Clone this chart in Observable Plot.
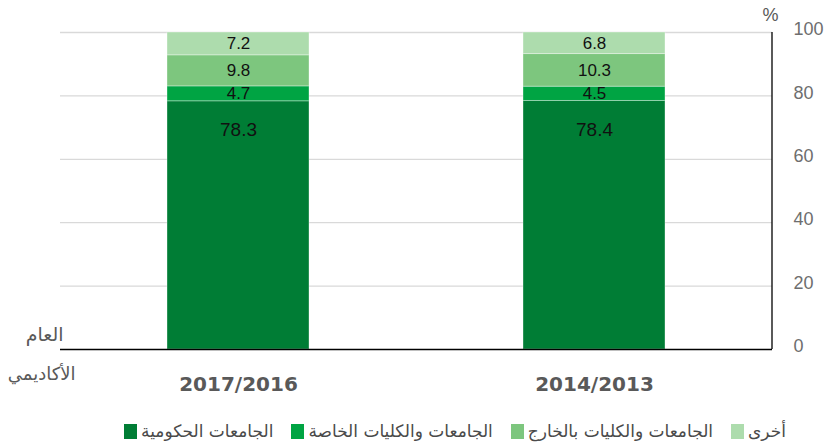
<!DOCTYPE html>
<html>
<head>
<meta charset="utf-8">
<script src="https://cdn.jsdelivr.net/npm/d3@7"></script>
<script src="https://cdn.jsdelivr.net/npm/@observablehq/plot@0.6"></script>
<style>
  body { margin: 0; background: white; width: 830px; }
  #legend { display: flex; direction: rtl; justify-content: center; align-items: center; height: 36px; padding-left: 62px; padding-top: 6px; box-sizing: border-box; font-family: "DejaVu Sans", sans-serif; font-size: 17px; color: #4a4a4a; }
  .item { display: flex; align-items: center; margin-left: 18px; }
  .sw { width: 13px; height: 15px; margin-right: 4px; }
</style>
</head>
<body>
<div id="chart"></div>
<div id="legend"></div>
<script>
const years = ["2017/2016", "2014/2013"];
const categories = ["الجامعات الحكومية", "الجامعات والكليات الخاصة", "الجامعات والكليات بالخارج", "أخرى"];
const govValues = [78.3, 78.4];
const privateValues = [4.7, 4.5];
const abroadValues = [9.8, 10.3];
const otherValues = [7.2, 6.8];
const colors = ["#007d35", "#00a443", "#7dc67e", "#addcad"];
const yTicks = [0, 20, 40, 60, 80, 100];
const axisTitle = ["العام", "الأكاديمي"];
const unit = ["%"];

const series = [govValues, privateValues, abroadValues, otherValues];
const rows = years.flatMap((yr, i) => categories.map((c, j) => ({year: yr, category: c, value: series[j][i]})));
const gov = categories[0];

const rightLine = (index, scales, values, dims) => {
  const x = dims.width - dims.marginRight;
  return d3.create("svg:line")
    .attr("x1", x).attr("x2", x)
    .attr("y1", scales.y(100)).attr("y2", scales.y(0))
    .attr("stroke", "black").attr("stroke-width", 1.3).node();
};

const chart = Plot.plot({
  width: 830, height: 410,
  marginLeft: 60, marginRight: 58, marginTop: 32, marginBottom: 61,
  style: {fontFamily: "'Liberation Sans', 'DejaVu Sans', sans-serif", background: "white"},
  x: {domain: years, paddingInner: 0.6, paddingOuter: 0.3, label: null},
  y: {domain: [0, 100], label: null},
  color: {domain: categories, range: colors},
  marks: [
    Plot.gridY(yTicks.filter(t => t > 0), {stroke: "#d9d9d9", strokeOpacity: 1, strokeWidth: 1.3}),
    Plot.barY(rows, Plot.stackY({x: "year", y: "value", z: "category", fill: "category", stroke: "white", strokeOpacity: 0.35, strokeWidth: 1})),
    Plot.text(rows, Plot.stackY({x: "year", y: "value", z: "category", text: d => d.category === gov ? null : d.value.toFixed(1), fontSize: 17, fill: "#111"})),
    Plot.text(rows, Plot.stackY2({x: "year", y: "value", z: "category", text: d => d.category === gov ? d.value.toFixed(1) : null, fontSize: 19, fill: "#111", dy: 29})),
    Plot.ruleY([0], {stroke: "black", strokeWidth: 1.3}),
    rightLine,
    Plot.axisY(yTicks, {anchor: "right", tickSize: 0, tickPadding: 21, fontSize: 18, fill: "#6e6e6e", dy: -3, label: null}),
    Plot.axisX({tickSize: 0, tickPadding: 27, fontSize: 20, fontWeight: "bold", fill: "#595959", fontFamily: "DejaVu Sans", label: null}),
    Plot.text(unit, {frameAnchor: "top-right", textAnchor: "middle", lineAnchor: "middle", dx: -2, dy: -17, fontSize: 18, fill: "#595959"}),
    Plot.text([axisTitle[0]], {frameAnchor: "bottom-left", textAnchor: "end", lineAnchor: "middle", dx: 3, dy: -15, fontSize: 19, fill: "#595959", fontFamily: "DejaVu Sans"}),
    Plot.text([axisTitle[1]], {frameAnchor: "bottom-left", textAnchor: "end", lineAnchor: "middle", dx: 15, dy: 25, fontSize: 18, fill: "#595959", fontFamily: "DejaVu Sans"})
  ]
});
document.getElementById("chart").append(chart);

const legend = document.getElementById("legend");
[3, 2, 1, 0].forEach(j => {
  const item = document.createElement("div");
  item.className = "item";
  const t = document.createElement("span");
  t.textContent = categories[j];
  const s = document.createElement("span");
  s.className = "sw";
  s.style.background = colors[j];
  item.append(t, s);
  legend.append(item);
});
</script>
</body>
</html>
